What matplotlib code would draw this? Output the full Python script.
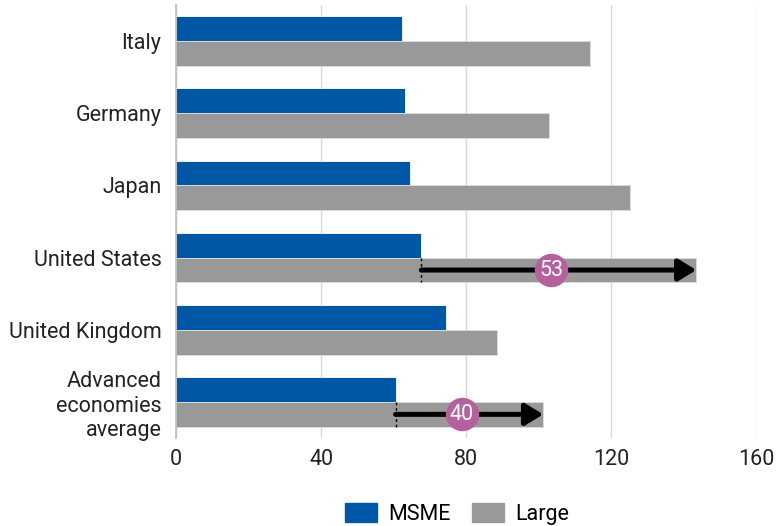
import numpy as np
import matplotlib.pyplot as plt
from matplotlib.patches import Patch

plt.rcParams['font.family'] = ['Roboto', 'DejaVu Sans']

# Dane
countries = ['Italy', 'Germany', 'Japan', 'United States', 'United Kingdom',
             'Advanced\neconomies\naverage']
msme = [62.4, 63.0, 64.6, 67.6, 74.5, 60.5]
large = [114.2, 102.9, 125.2, 143.4, 88.5, 101.2]
# luki (w %) zaznaczone strzalkami
gap_idx = [3, 5]
gap_labels = ['53', '40']

blue = '#0057A5'
grey = '#999999'
pink = '#B5619E'
fs = 15.5

fig = plt.figure(figsize=(7.81, 5.26), dpi=100)
ax = fig.add_axes([0.2254, 0.1673, 0.7433, 0.8232])

y = np.arange(len(countries))
h = 0.345
ax.barh(y - h / 2, msme, height=h, color=blue, edgecolor='white', linewidth=0.6, zorder=2)
ax.barh(y + h / 2, large, height=h, color=grey, edgecolor='#dddddd', linewidth=0.6, zorder=2)

# Strzalki
head = 4.2
for i, lab in zip(gap_idx, gap_labels):
    yy = y[i] + h / 2
    ax.vlines(msme[i], yy - h / 2, yy + h / 2, colors='black', linestyles=(0, (2, 2)),
              linewidth=1, zorder=3)
    ax.annotate('', xy=(large[i], yy), xytext=(msme[i], yy),
                arrowprops=dict(arrowstyle='-|>,head_length=0.9,head_width=0.55',
                                mutation_scale=12, lw=3.6, color='black',
                                shrinkA=0, shrinkB=0), zorder=4)
    mid = (msme[i] + large[i] - head) / 2
    ax.scatter([mid], [yy], s=580, color=pink, zorder=5, linewidths=0)
    ax.text(mid, yy, lab, color='white', fontsize=fs, ha='center', va='center', zorder=6)

# Osie
ax.set_xlim(0, 160)
ax.set_xticks([0, 40, 80, 120, 160])
ax.set_ylim(5.5, -0.5)
ax.set_yticks(y)
ax.set_yticklabels(countries)
ax.tick_params(axis='both', length=0, labelsize=fs, colors='#222222')
ax.tick_params(axis='y', pad=10.5)
ax.tick_params(axis='x', pad=8)
ax.grid(axis='x', color='#d9d9d9', linewidth=1, zorder=0)
for s in ['top', 'right', 'bottom']:
    ax.spines[s].set_visible(False)
ax.spines['left'].set_color('#bbbbbb')
ax.spines['left'].set_linewidth(1.2)
ax.spines['left'].set_zorder(3)

handles = [Patch(color=blue, label='MSME'), Patch(color=grey, label='Large')]
fig.legend(handles=handles, loc='center', bbox_to_anchor=(457 / 781, 1 - 514 / 526),
           ncol=2, frameon=False, fontsize=fs, handlelength=1.5, handleheight=1.0,
           columnspacing=1.0, handletextpad=0.5)

fig.savefig('out.png', dpi=100)
